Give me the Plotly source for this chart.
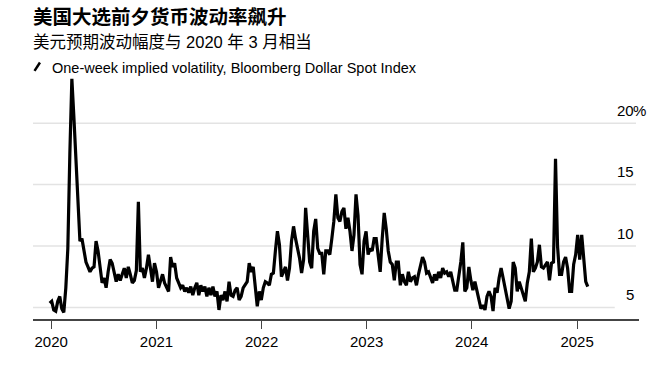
import pandas as pd
import plotly.graph_objects as go

# Weekly observations (Fridays) starting 2019-12-27
start_date = "2019-12-27"
vol_2020 = [5.35, 5.5, 4.8, 4.7, 5.5, 5.9, 4.9, 4.6, 6.6, 9.8, 17.5, 23.6, 20.5, 17.0, 13.6,
            10.4, 10.6, 9.8, 8.7, 8.3, 7.9, 8.2, 8.3, 10.4, 9.6, 8.3, 7.0, 7.4, 6.6, 7.9,
            8.9, 8.6, 7.7, 7.1, 7.7, 7.2, 7.7, 8.2, 7.4, 8.3, 7.7, 7.0, 7.2]
vol_2021 = [8.0, 13.6, 7.9, 8.2, 7.4, 8.2, 9.3, 8.2, 7.1, 8.6,
            7.9, 6.6, 7.1, 7.7, 7.0, 6.6, 6.3, 9.1, 8.3, 8.6,
            7.4, 7.0, 6.6, 6.8, 6.3, 6.6, 6.2, 6.7, 6.0, 6.6,
            7.0, 6.0, 6.8, 6.3, 6.7, 5.9, 6.6, 6.0, 6.7, 5.9,
            6.3, 4.8, 6.0, 5.6, 6.3]
vol_2022 = [5.5, 7.1, 6.0, 5.9, 6.4, 6.6, 5.6, 5.9, 6.6, 6.8,
            7.1, 8.6, 7.9, 8.3, 6.6, 5.1, 6.3, 5.6, 6.6, 7.1,
            7.0, 6.8, 7.7, 7.8, 9.6, 11.2, 10.1, 7.5, 7.9, 8.3,
            7.2, 8.2, 10.4, 11.6, 10.6, 9.8, 9.0, 7.8, 8.9, 13.1,
            11.2, 8.7, 8.2, 11.2, 12.2]
vol_2023 = [9.8, 9.4, 9.4, 7.7, 9.6, 9.6, 9.3, 10.6, 12.0, 14.2,
            12.3, 12.0, 12.8, 13.1, 11.4, 12.3, 11.2, 9.6, 10.9, 14.2,
            12.5, 8.5, 7.7, 10.4, 11.2, 9.3, 9.8, 9.6, 10.6, 10.6,
            9.0, 7.9, 10.6, 12.7, 11.4, 9.6, 8.7, 8.5, 7.2, 8.7,
            8.7, 6.8, 7.7, 7.1]
vol_2024a = [6.8, 7.9, 7.1, 7.4, 7.5, 6.8, 7.7, 8.5, 9.1, 8.7,
             7.8, 7.9, 7.4, 7.0, 7.7, 7.2, 7.9, 7.4, 8.2, 7.8,
             7.9, 7.5, 7.9, 7.0, 6.4, 6.4, 7.4, 8.7, 10.3, 6.3,
             6.6, 8.3, 7.2, 6.4, 7.1, 6.3, 5.8, 4.9, 5.2, 4.8,
             5.9, 6.3, 5.9, 4.7, 6.6]
vol_2024b = [6.2, 7.4, 8.2, 7.4, 6.6, 5.8, 4.9, 5.5, 8.7, 8.2,
             6.3, 7.1, 6.6, 5.9, 5.5, 7.0, 7.9, 10.6, 7.9, 8.2,
             8.7, 10.1, 8.3, 8.2, 8.5, 8.7, 7.2, 8.6, 8.7, 17.1,
             10.0, 7.7, 7.7, 8.7, 9.1, 8.2, 6.3, 6.3, 8.5, 9.3,
             10.9, 8.9, 10.9, 8.9, 7.1, 6.7]

values = vol_2020 + vol_2021 + vol_2022 + vol_2023 + vol_2024a + vol_2024b
dates = pd.date_range(start_date, periods=len(values), freq="7D")

title = "美国大选前夕货币波动率飙升"
subtitle = "美元预期波动幅度与 2020 年 3 月相当"
legend_text = "One-week implied volatility, Bloomberg Dollar Spot Index"
y_ticks = [5, 10, 15, 20]
y_labels = ["5", "10", "15", "20"]
x_range = ["2019-10-30", "2025-08-04"]
y_range = [4.06, 24.0]

LAT = "Liberation Sans, Arial, sans-serif"
CJK = "Liberation Sans, Noto Sans CJK SC, sans-serif"

fig = go.Figure()
fig.add_trace(go.Scatter(x=dates, y=values, mode="lines",
                         line=dict(color="black", width=3.2),
                         hoverinfo="skip", showlegend=False))

shapes = []
for v in y_ticks:
    x1 = 0.960 if v == 5 else 0.995
    shapes.append(dict(type="line", xref="paper", yref="y", x0=0, x1=x1, y0=v, y1=v,
                       line=dict(color="#e3e3e3", width=1.5), layer="below"))
# legend slash icon
shapes.append(dict(type="line", xref="paper", yref="paper",
                   x0=0.0025, y0=1.013, x1=0.0115, y1=1.047,
                   line=dict(color="black", width=2.5)))

annotations = []
for v, lab in zip(y_ticks, y_labels):
    annotations.append(dict(xref="paper", yref="y", x=0.995, y=v + 1.05, text=lab,
                            showarrow=False, xanchor="right", yanchor="middle",
                            font=dict(family=LAT, size=15, color="black")))
annotations.append(dict(xref="paper", yref="y", x=0.995, y=21.05, text="%",
                        showarrow=False, xanchor="left", yanchor="middle", xshift=-5,
                        font=dict(family=LAT, size=15, color="black")))
annotations.append(dict(xref="paper", yref="paper", x=-0.003, y=1.2408,
                        text="<b>" + title + "</b>", showarrow=False,
                        xanchor="left", yanchor="middle",
                        font=dict(family="Noto Sans CJK SC", size=19.5, color="black")))
annotations.append(dict(xref="paper", yref="paper", x=-0.003, y=1.1306,
                        text=subtitle, showarrow=False,
                        xanchor="left", yanchor="middle",
                        font=dict(family=CJK, size=16.5, color="black")))
annotations.append(dict(xref="paper", yref="paper", x=0.028, y=1.0245,
                        text=legend_text, showarrow=False,
                        xanchor="left", yanchor="middle",
                        font=dict(family=LAT, size=14.5, color="black")))

fig.update_layout(
    width=666, height=369,
    margin=dict(l=33, r=27, t=74, b=50),
    plot_bgcolor="white", paper_bgcolor="white",
    shapes=shapes, annotations=annotations,
    xaxis=dict(type="date", range=x_range, showgrid=False, zeroline=False,
               showline=True, linecolor="#444", linewidth=1.5,
               ticks="outside", ticklen=8, tickcolor="#444", tickwidth=1,
               tick0="2020-01-01", dtick="M12", tickformat="%Y",
               tickfont=dict(family=LAT, size=15, color="black")),
    yaxis=dict(range=y_range, showgrid=False, zeroline=False, showticklabels=False,
               showline=False, ticks=""),
)

fig.write_html("out.html", config={"displayModeBar": False},
               post_script="document.body.style.margin='0px';")
